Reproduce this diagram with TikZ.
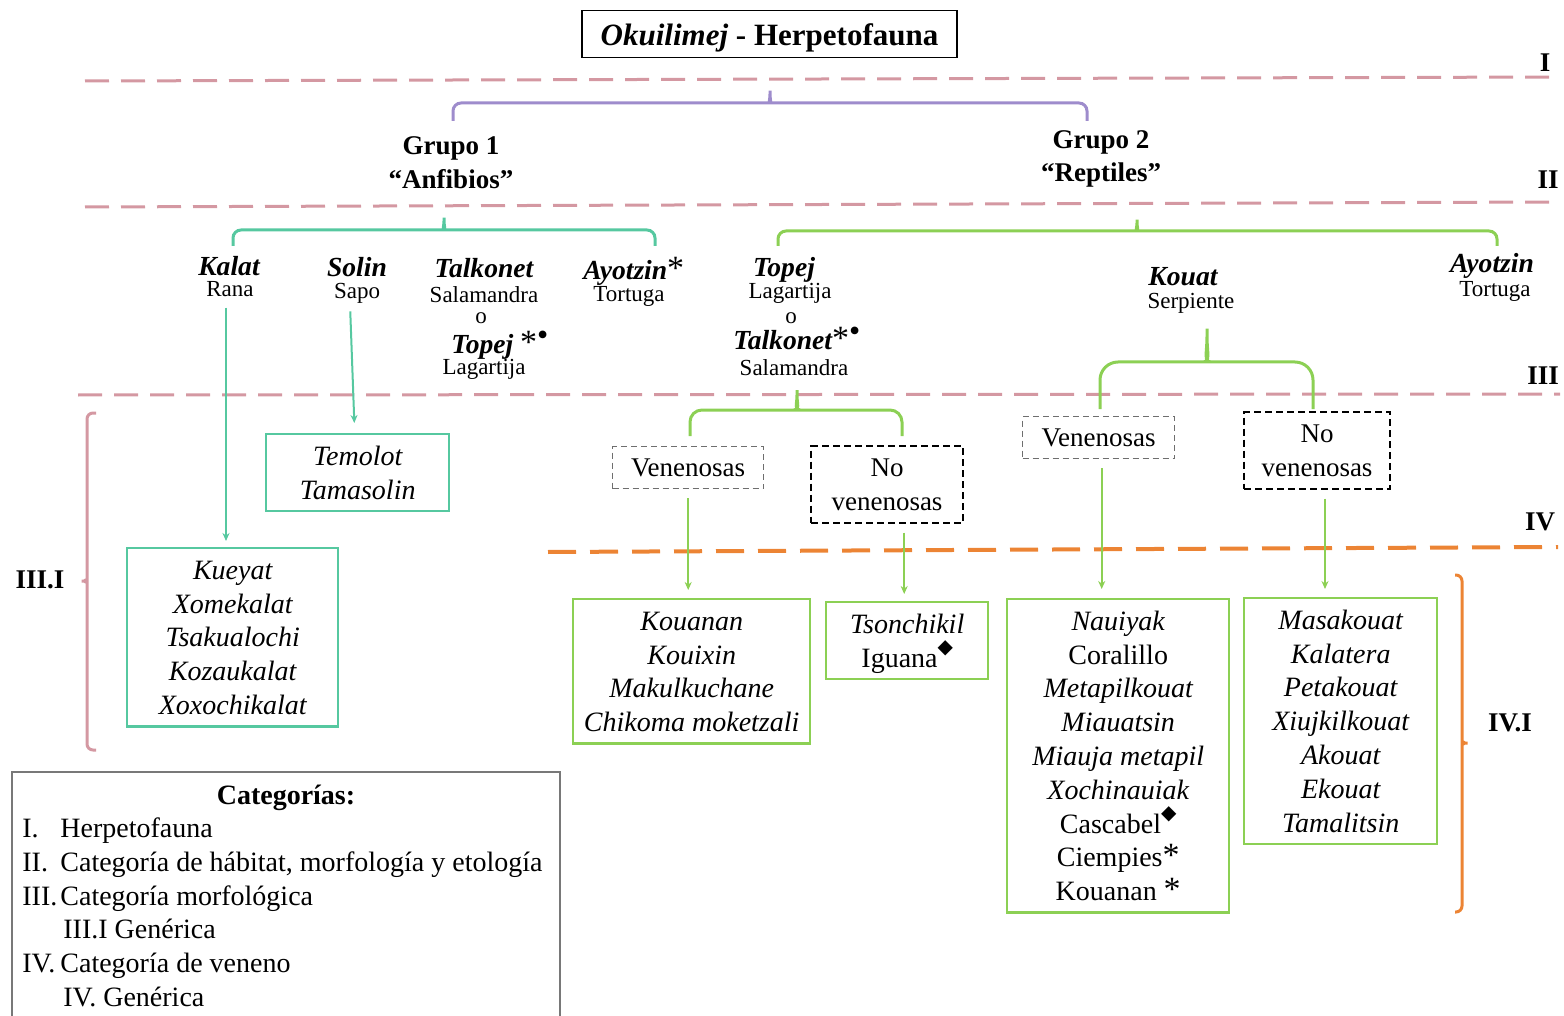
\documentclass[tikz,border=0pt]{standalone}
\usepackage{fontspec}
\setmainfont{Liberation Serif}
\newfontfamily\symfont{DejaVu Sans}
\usetikzlibrary{arrows.meta,calc}

\definecolor{divpink}{RGB}{212,152,162}
\definecolor{bracepurple}{RGB}{158,140,204}
\definecolor{amphteal}{RGB}{86,200,160}
\definecolor{reptgreen}{RGB}{140,208,84}
\definecolor{venorange}{RGB}{236,132,52}
\definecolor{framegray}{RGB}{120,120,120}
\definecolor{dashgray}{RGB}{110,110,110}

\newcommand{\setfs}[2]{\fontsize{#1}{#2}\selectfont}
\newcommand{\starmark}{{\fontsize{17}{17}\selectfont\mdseries\upshape *}}
\newcommand{\dotmark}{{\fontsize{16}{16}\selectfont\mdseries\upshape\raisebox{0.25em}{•}}}
\newcommand{\diamondmark}{\raisebox{0.5em}{\symfont\fontsize{10}{10}\selectfont ◆}}
% invisible struts fixing the space above the first and below the last line
\newcommand{\listtop}{\rule{0pt}{15.5pt}}
\newcommand{\listbot}{\rule[-6pt]{0pt}{6pt}}
\newcommand{\choicetop}{\rule{0pt}{15pt}}
\newcommand{\choicebot}{\rule[-6pt]{0pt}{6pt}}

\tikzset{
  txt/.style={inner sep=0pt, anchor=base},
  taxon/.style={txt, font=\setfs{13.8}{16}\bfseries\itshape},
  common/.style={txt, font=\setfs{11.5}{13}},
  group/.style={txt, font=\setfs{13.5}{16}\bfseries},
  levellabel/.style={txt, font=\setfs{13.5}{16}\bfseries},
  divider/.style={draw=divpink, line width=1.5pt, dash pattern=on 12pt off 6pt},
  vendivider/.style={draw=venorange, line width=2pt, dash pattern=on 14pt off 7pt},
  bracket/.style={line width=1.5pt, rounded corners=4pt},
  listbox/.style={draw, line width=1.2pt, align=center, anchor=north west,
    inner xsep=2pt, inner ysep=0pt, font=\setfs{14}{16.9}\itshape},
  choicebox/.style={align=center, anchor=north west, inner xsep=2pt, inner ysep=0pt,
    font=\setfs{13.5}{17.25}},
  venbox/.style={choicebox, draw=dashgray, line width=0.7pt, dash pattern=on 3pt off 2pt},
  novenbox/.style={choicebox, draw=black, line width=1pt, dash pattern=on 3.5pt off 2pt},
  tealarrow/.style={draw=amphteal, line width=1pt, -{Stealth[length=4pt,width=3.5pt]}},
  greenarrow/.style={draw=reptgreen, line width=1pt, -{Stealth[length=4pt,width=3.5pt]}},
  legtxt/.style={inner sep=0pt, anchor=base west, font=\setfs{14}{17}},
}

\begin{document}
\begin{tikzpicture}[x=0.5pt,y=-0.5pt]
\useasboundingbox (0,0) rectangle (1564,1016);
\clip (0,0) rectangle (1564,1016);

% title
\node[draw, line width=0.6pt, anchor=north, inner sep=0pt, minimum width=187.5pt,
  text height=17.5pt, text depth=6pt, font=\setfs{15.5}{18}\bfseries] (title)
  at (769.5,10) {\textit{Okuilimej} - Herpetofauna};

% category dividers
\draw[divider] (85,81) -- (1560,77);
\draw[divider] (85,207) -- (1560,202);
\draw[divider] (78,395) -- (1560,394);
\draw[vendivider] (548,552) -- (1558,547);

\node[levellabel] (lvI) at (1545,72) {I};
\node[levellabel] (lvII) at (1548,189) {II};
\node[levellabel] (lvIII) at (1543,385) {III};
\node[levellabel] (lvIV) at (1540,530) {IV};
\node[levellabel] (lvIIIi) at (40,588) {III.I};
\node[levellabel] (lvIVi) at (1510,731) {IV.I};

% herpetofauna brace
\draw[bracket, draw=bracepurple] (453,121) -- (453,103) -- (763,103)
  .. controls (768,103) and (770,100) .. (770,86)
  .. controls (770,100) and (772,103) .. (777,103) -- (1087,103) -- (1087,121);

% groups
\node[group] (g1) at (451,155) {Grupo 1};
\node[group] (g1b) at (451,189) {“Anfibios”};
\node[group] (g2) at (1101,149) {Grupo 2};
\node[group] (g2b) at (1101,182) {“Reptiles”};

% amphibian brace
\draw[bracket, draw=amphteal] (233,246) -- (233,230) -- (437,230)
  .. controls (442,230) and (444,226) .. (444,213)
  .. controls (444,226) and (446,230) .. (451,230) -- (655,230) -- (655,246);

% reptile brace
\draw[bracket, draw=reptgreen] (778,246) -- (778,231) -- (1130,231)
  .. controls (1135,231) and (1137,227) .. (1137,215)
  .. controls (1137,227) and (1139,231) .. (1144,231) -- (1497,231) -- (1497,246);

% amphibians
\node[taxon] (kalat) at (229,276) {Kalat};
\node[common] (rana) at (230,297) {Rana};
\node[taxon] (solin) at (357,277) {Solin};
\node[common] (sapo) at (357,299) {Sapo};
\node[taxon] (talk1) at (484,278) {Talkonet};
\node[common] (sal1) at (484,303) {Salamandra};
\node[common] (or1) at (481,323) {o};
\node[taxon, anchor=base west] (topej1) at (451,353) {Topej \starmark\dotmark};
\node[common] (lag1) at (484,374) {Lagartija};
\node[taxon, anchor=base west] (ayo1) at (583,280) {Ayotzin\starmark};
\node[common] (tort1) at (629,302) {Tortuga};

% reptiles
\node[taxon] (topej2) at (784,277) {Topej};
\node[common] (lag2) at (790,299) {Lagartija};
\node[common] (or2) at (791,323) {o};
\node[taxon, anchor=base west] (talk2) at (733,350) {Talkonet\starmark\dotmark};
\node[common] (sal2) at (794,376) {Salamandra};
\node[taxon] (kouat) at (1183,286) {Kouat};
\node[common] (serp) at (1191,309) {Serpiente};
\node[taxon] (ayo2) at (1492,273) {Ayotzin};
\node[common] (tort2) at (1495,297) {Tortuga};

% lizard / salamander brace
\draw[bracket, rounded corners=6pt, draw=reptgreen] (690,436) -- (690,410) -- (788,410)
  .. controls (794,410) and (797,404) .. (797,383)
  .. controls (797,404) and (800,410) .. (806,410) -- (902,410) -- (902,436);

% snake brace
\draw[bracket, rounded corners=9pt, draw=reptgreen] (1100,409) -- (1100,362) -- (1194,362)
  .. controls (1203,362) and (1207,354) .. (1207,318)
  .. controls (1207,354) and (1211,362) .. (1220,362) -- (1313,362) -- (1313,409);

% venom categories
\node[venbox, minimum width=75.5pt] (ven1) at (612,446) {\choicetop Venenosas\choicebot};
\node[novenbox, minimum width=76pt] (nov1) at (810,445) {\choicetop No\\venenosas\choicebot};
\node[venbox, minimum width=76pt] (ven2) at (1022,416) {\choicetop Venenosas\choicebot};
\node[novenbox, minimum width=73pt] (nov2) at (1243,411) {\choicetop No\\venenosas\choicebot};

% generic names
\node[listbox, draw=amphteal, minimum width=91.5pt] (temolot) at (265,433)
  {\listtop Temolot\\Tamasolin\listbot};
\node[listbox, draw=amphteal, minimum width=105.5pt] (kueyat) at (126,547)
  {\listtop Kueyat\\Xomekalat\\Tsakualochi\\Kozaukalat\\Xoxochikalat\listbot};
\node[listbox, draw=reptgreen, minimum width=118.5pt] (kouanan) at (572,598)
  {\listtop Kouanan\\Kouixin\\Makulkuchane\\Chikoma moketzali\listbot};
\node[listbox, draw=reptgreen, minimum width=81pt] (tson) at (825,601)
  {\listtop Tsonchikil\\\textup{Iguana}\diamondmark\listbot};
\node[listbox, draw=reptgreen, minimum width=111pt] (nauiyak) at (1006,598)
  {\listtop Nauiyak\\\textup{Coralillo}\\Metapilkouat\\Miauatsin\\Miauja metapil\\Xochinauiak\\
   \textup{Cascabel}\diamondmark\\\textup{Ciempies}\starmark\\\textup{Kouanan} \starmark\listbot};
\node[listbox, draw=reptgreen, minimum width=96.5pt] (masa) at (1243,597)
  {\listtop Masakouat\\Kalatera\\Petakouat\\Xiujkilkouat\\Akouat\\Ekouat\\Tamalitsin\listbot};

% connectors
\draw[tealarrow, shorten <=5pt, shorten >=3pt] ([xshift=-2pt]rana.south) -- ([xshift=-2pt]rana.south |- kueyat.north);
\draw[tealarrow, shorten <=3.5pt, shorten >=5pt] ([xshift=-3.5pt]sapo.south) -- ([xshift=-1.5pt]temolot.north);
\draw[greenarrow, shorten <=4.5pt, shorten >=4pt] (ven1.south) -- (ven1.south |- kouanan.north);
\draw[greenarrow, shorten <=4.5pt, shorten >=3.5pt] ([xshift=-1.5pt]tson.north |- nov1.south) -- ([xshift=-1.5pt]tson.north);
\draw[greenarrow, shorten <=4.5pt, shorten >=4.5pt] ([xshift=1.5pt]ven2.south) -- ([xshift=1.5pt]ven2.south |- nauiyak.north);
\draw[greenarrow, shorten <=4.5pt, shorten >=4pt] ([xshift=4pt]nov2.south) -- ([xshift=4pt]nov2.south |- masa.north);

% generic-level brackets
\draw[bracket, rounded corners=3pt, draw=divpink] (96,413) -- (87,413) -- (87,574)
  .. controls (87,579) and (84,581) .. (78,581)
  .. controls (84,581) and (87,583) .. (87,588) -- (87,750) -- (96,750);
\draw[bracket, rounded corners=3pt, draw=venorange] (1455,575) -- (1462,575) -- (1462,736)
  .. controls (1462,741) and (1465,743) .. (1471,743)
  .. controls (1465,743) and (1462,745) .. (1462,750) -- (1462,912) -- (1455,912);

% legend
\draw[draw=framegray, line width=0.8pt] (12,772) rectangle (560,1040);
\node[inner sep=0pt, anchor=base, font=\setfs{14}{17}\bfseries] (legtitle) at (286,804) {Categorías:};
\node[legtxt] (n1) at (22,837) {I.};
\node[legtxt] (t1) at (60,837) {Herpetofauna};
\node[legtxt] (n2) at (22,871) {II.};
\node[legtxt] (t2) at (60,871) {Categoría de hábitat, morfología y etología};
\node[legtxt] (n3) at (22,905) {III.};
\node[legtxt] (t3) at (60,905) {Categoría morfológica};
\node[legtxt] (t3i) at (63,938) {III.I Genérica};
\node[legtxt] (n4) at (22,972) {IV.};
\node[legtxt] (t4) at (60,972) {Categoría de veneno};
\node[legtxt] (t4i) at (63,1006) {IV. Genérica};
\end{tikzpicture}
\end{document}
